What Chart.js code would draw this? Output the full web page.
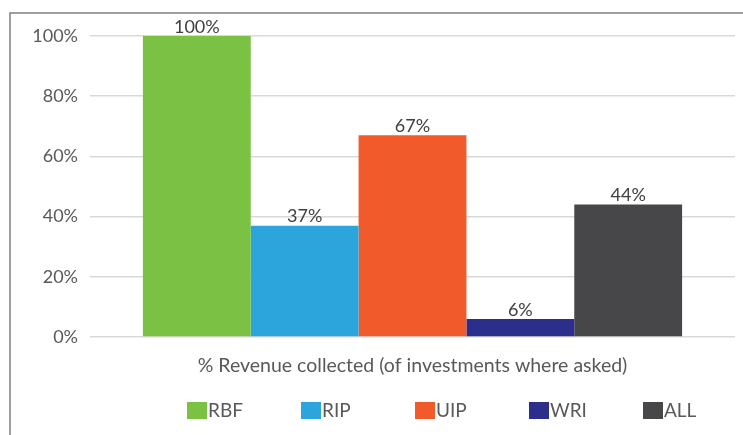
<!DOCTYPE html>
<html>
<head>
<meta charset="utf-8">
<script src="https://cdn.jsdelivr.net/npm/chart.js@4"></script>
<style>
  html, body { margin: 0; padding: 0; background: #fff; }
  #wrap { width: 743px; height: 435px; }
</style>
</head>
<body>
<div id="wrap"><canvas id="myChart" width="743" height="435"></canvas></div>
<script>
// data
const categories = ['% Revenue collected (of investments where asked)'];
const seriesNames = ['RBF', 'RIP', 'UIP', 'WRI', 'ALL'];
const seriesValues = [100, 37, 67, 6, 44];
const seriesColors = ['#7bc143', '#2ca5dc', '#f15a2b', '#2b2f8b', '#474749'];
const yTicks = [0, 20, 40, 60, 80, 100];

const fontName = 'Lato, "Open Sans", sans-serif';

// frame lines (top and left)
const framePlugin = {
  id: 'frame',
  beforeDraw(chart) {
    const ctx = chart.ctx;
    ctx.save();
    ctx.strokeStyle = '#808080';
    ctx.lineWidth = 1.5;
    ctx.beginPath();
    ctx.moveTo(10, chart.height);
    ctx.lineTo(10, 13);
    ctx.lineTo(chart.width, 13);
    ctx.stroke();
    ctx.restore();
  }
};

// value labels above the bars
const labelPlugin = {
  id: 'valueLabels',
  afterDatasetsDraw(chart) {
    const ctx = chart.ctx;
    ctx.save();
    ctx.font = '18px ' + fontName;
    ctx.fillStyle = '#404040';
    ctx.textAlign = 'center';
    ctx.textBaseline = 'bottom';
    chart.data.datasets.forEach((ds, i) => {
      chart.getDatasetMeta(i).data.forEach((bar, j) => {
        ctx.fillText(ds.data[j] + '%', bar.x, bar.y);
      });
    });
    ctx.restore();
  }
};

// legend drawn like the excel one: box right next to the text, even spacing
const legendPlugin = {
  id: 'boxLegend',
  afterDraw(chart) {
    const ctx = chart.ctx;
    const startX = chart.chartArea.left + 97;
    const step = 114;
    const y = 402;
    ctx.save();
    ctx.font = '19px ' + fontName;
    ctx.textBaseline = 'middle';
    chart.data.datasets.forEach((ds, i) => {
      const x = startX + i * step;
      ctx.fillStyle = ds.backgroundColor;
      ctx.fillRect(x, y, 20, 17);
      ctx.fillStyle = '#595959';
      ctx.fillText(ds.label, x + 21, y + 9);
    });
    ctx.restore();
  }
};

const datasets = seriesNames.map((name, i) => ({
  label: name,
  data: [seriesValues[i]],
  backgroundColor: seriesColors[i],
  borderWidth: 0,
  categoryPercentage: 0.836,
  barPercentage: 1
}));

const config = {
  type: 'bar',
  data: { labels: categories, datasets: datasets },
  options: {
    responsive: false,
    animation: false,
    layout: { padding: { left: 10, right: 8, top: 36, bottom: 0 } },
    scales: {
      x: {
        grid: { display: false },
        border: { display: false },
        ticks: { color: '#595959', font: { family: fontName, size: 19.5 }, padding: 9 },
        afterFit(scale) { scale.height = 98; }
      },
      y: {
        min: 0,
        max: 100,
        afterBuildTicks(scale) { scale.ticks = yTicks.map(v => ({ value: v })); },
        grid: { color: '#d9d9d9', lineWidth: 1.5, drawTicks: false },
        border: { display: false },
        ticks: {
          color: '#595959',
          font: { family: fontName, size: 18 },
          padding: 12,
          callback: v => v + '%'
        },
        afterFit(scale) { scale.width = 80; }
      }
    },
    plugins: {
      legend: { display: false },
      tooltip: { enabled: false }
    }
  },
  plugins: [framePlugin, labelPlugin, legendPlugin]
};

var myChart = new Chart(document.getElementById('myChart'), config);
</script>
</body>
</html>
